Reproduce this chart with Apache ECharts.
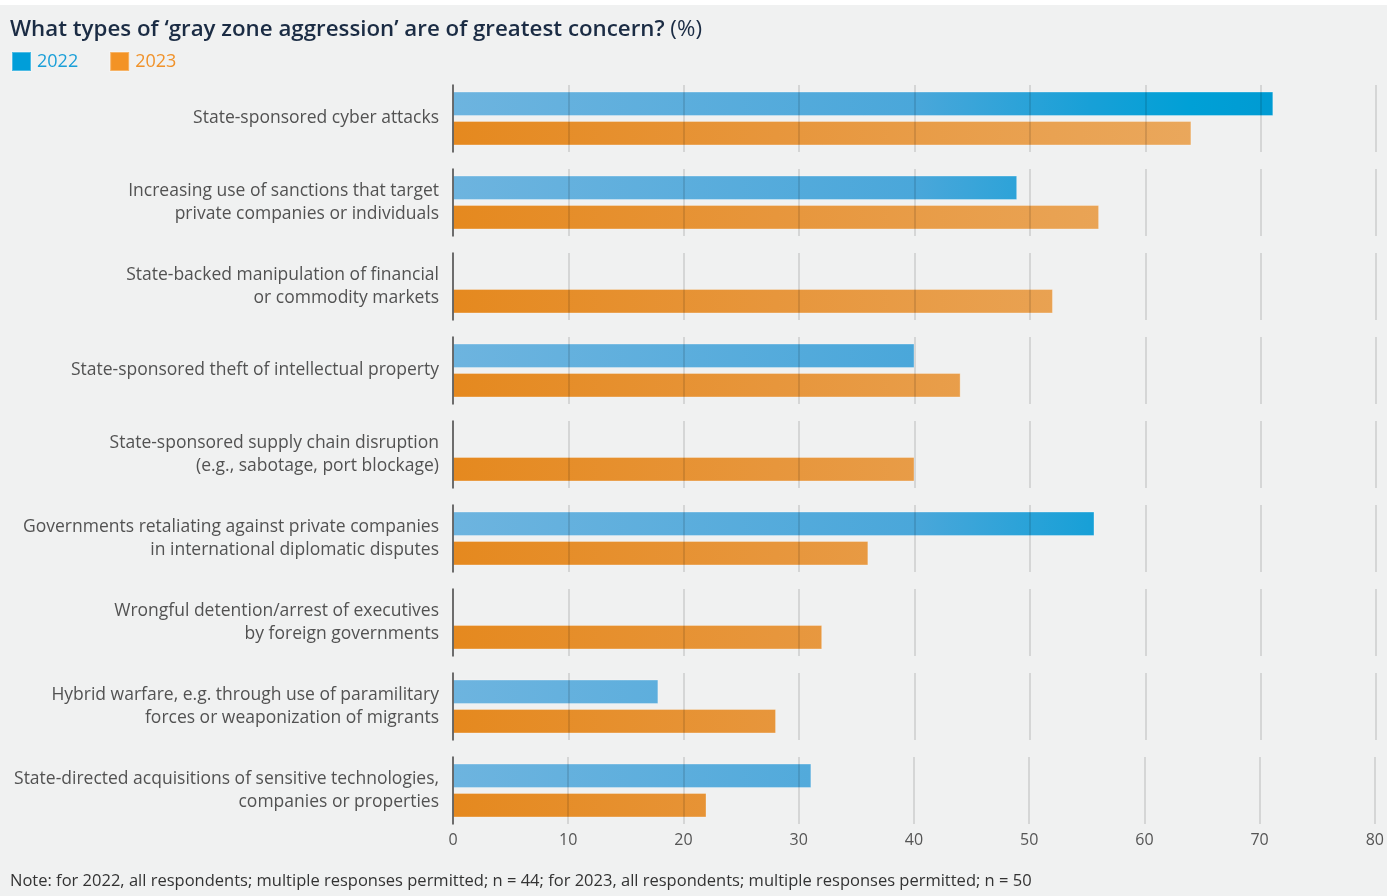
<!DOCTYPE html>
<html>
<head>
<meta charset="utf-8">
<script src="https://cdn.jsdelivr.net/npm/echarts@6/dist/echarts.min.js"></script>
<style>
  html, body { margin: 0; padding: 0; background: #ffffff; }
  #chart { width: 1387px; height: 896px; }
</style>
</head>
<body>
<div id="chart"></div>
<script>
// Survey answers: share of respondents (%) naming each type of gray zone aggression
const categories = [
  'State-sponsored cyber attacks',
  'Increasing use of sanctions that target\nprivate companies or individuals',
  'State-backed manipulation of financial\nor commodity markets',
  'State-sponsored theft of intellectual property',
  'State-sponsored supply chain disruption\n(e.g., sabotage, port blockage)',
  'Governments retaliating against private companies\nin international diplomatic disputes',
  'Wrongful detention/arrest of executives\nby foreign governments',
  'Hybrid warfare, e.g. through use of paramilitary\nforces or weaponization of migrants',
  'State-directed acquisitions of sensitive technologies,\ncompanies or properties'
];
// null = option not asked that year
const values2022 = [71.1, 48.9, null, 40.0, null, 55.6, null, 17.8, 31.1];
const values2023 = [64, 56, 52, 44, 40, 36, 32, 28, 22];
const xTicks = [0, 10, 20, 30, 40, 50, 60, 70, 80];

const FONT = '"Open Sans", Lato, sans-serif';
const PLOT_LEFT = 453, PLOT_RIGHT = 1376;
const ROW_TOP = 85, ROW_STEP = 84, ROW_HEIGHT = 67;

const blueFill = new echarts.graphic.LinearGradient(PLOT_LEFT, 0, PLOT_RIGHT, 0, [
  { offset: 0, color: '#6db4df' },
  { offset: 0.5, color: '#4aa7da' },
  { offset: 0.69, color: '#18a0d7' },
  { offset: 0.8, color: '#00a0d6' },
  { offset: 0.9, color: '#009ad2' },
  { offset: 1, color: '#0096cf' }
], true);
const orangeFill = new echarts.graphic.LinearGradient(PLOT_LEFT, 0, PLOT_RIGHT, 0, [
  { offset: 0, color: '#e5891f' },
  { offset: 0.35, color: '#e7963c' },
  { offset: 0.65, color: '#e9a252' },
  { offset: 0.85, color: '#eaa95f' },
  { offset: 1, color: '#ebad66' }
], true);

const grids = [], xAxes = [], yAxes = [], series = [];
categories.forEach((cat, i) => {
  const last = i === categories.length - 1;
  grids.push({ left: PLOT_LEFT, width: PLOT_RIGHT - PLOT_LEFT, top: ROW_TOP + ROW_STEP * i, height: ROW_HEIGHT });
  xAxes.push({
    type: 'value', gridIndex: i, min: xTicks[0], max: xTicks[xTicks.length - 1], interval: 10, z: 5,
    axisLine: { show: false }, axisTick: { show: false },
    splitLine: { show: true, lineStyle: { color: 'rgba(0,0,0,0.15)', width: 1.5 } },
    axisLabel: { show: last, margin: 8, fontFamily: FONT, fontSize: 16, color: '#555555' }
  });
  yAxes.push({
    type: 'category', gridIndex: i, data: [cat], z: 6,
    axisTick: { show: false },
    axisLine: { show: true, lineStyle: { color: '#4a4a4a', width: 1.5 } },
    axisLabel: { margin: 14, fontFamily: FONT, fontSize: 17.5, lineHeight: 23, color: '#525252', align: 'right' }
  });
  const common = {
    type: 'bar', xAxisIndex: i, yAxisIndex: i, barWidth: 24.5, barGap: '20%',
    emphasis: { disabled: true }, silent: true
  };
  series.push(Object.assign({}, common, {
    name: '2022', data: [values2022[i]],
    itemStyle: { color: blueFill, borderColor: 'rgba(255,255,255,0.3)', borderWidth: 1 }
  }));
  series.push(Object.assign({}, common, {
    name: '2023', data: [values2023[i]],
    itemStyle: { color: orangeFill, borderColor: 'rgba(255,255,255,0.3)', borderWidth: 1 }
  }));
});

const chart = echarts.init(document.getElementById('chart'), null, { renderer: 'canvas' });
chart.setOption({
  animation: false,
  backgroundColor: '#f0f1f1',
  title: [
    {
      left: 10, top: 19, padding: 0,
      text: '{a|What types of \u2018gray zone aggression\u2019 are of greatest concern?}{b| (%)}',
      textStyle: {
        rich: {
          a: { fontFamily: FONT, fontSize: 22.3, fontWeight: 600, color: '#1b2c44' },
          b: { fontFamily: FONT, fontSize: 22.3, fontWeight: 'normal', color: '#1b2c44' }
        }
      }
    },
    {
      left: 10, top: 873, padding: 0,
      text: 'Note: for 2022, all respondents; multiple responses permitted; n = 44; for 2023, all respondents; multiple responses permitted; n = 50',
      textStyle: { fontFamily: FONT, fontSize: 16.5, fontWeight: 'normal', color: '#333333' }
    }
  ],
  legend: {
    left: 11, top: 51, padding: 0, icon: 'rect', itemWidth: 19, itemHeight: 19, itemGap: 31,
    selectedMode: false,
    textStyle: { fontFamily: FONT, fontSize: 18, padding: [0, 0, 0, 1] },
    data: [
      { name: '2022', itemStyle: { color: '#009ed9' }, textStyle: { color: '#1a9fd8' } },
      { name: '2023', itemStyle: { color: '#f39325' }, textStyle: { color: '#f0922a' } }
    ]
  },
  graphic: [
    { type: 'rect', shape: { x: 0, y: 0, width: 1387, height: 5 }, style: { fill: '#ffffff' }, silent: true }
  ],
  grid: grids,
  xAxis: xAxes,
  yAxis: yAxes,
  series: series
});
</script>
</body>
</html>
